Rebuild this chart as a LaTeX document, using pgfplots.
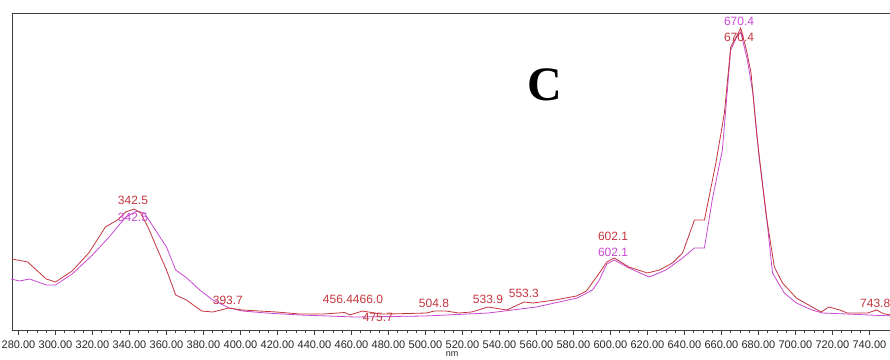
\documentclass[border=0pt]{standalone}
\usepackage{fontspec}
\setmainfont{Liberation Sans}
\newfontfamily\serifbf{Liberation Serif}
\usepackage{pgfplots}
\pgfplotsset{compat=1.18}
\definecolor{cred}{RGB}{196,52,62}
\definecolor{cmag}{RGB}{200,72,210}
\begin{document}
\begin{tikzpicture}
\begin{axis}[
  at={(12pt,29pt)}, anchor=south west,
  scale only axis, width=880pt, height=317pt,
  xmin=276.5, xmax=752.2, ymin=0, ymax=317,
  xtick={280,300,...,740}, minor x tick num=3,
  ytick=\empty,
  xtick pos=left,
  tick align=outside,
  major tick length=5pt, minor tick length=3pt,
  axis line style={black!75, line width=0.8pt},
  tick style={black!75, line width=0.7pt},
  xticklabel style={font=\fontsize{11}{12}\selectfont, text=black!85, yshift=-2pt,
    /pgf/number format/.cd, fixed, fixed zerofill, precision=2, 1000 sep={}, assume math mode=true},
  xlabel={nm}, xlabel style={font=\fontsize{9}{10}\selectfont, text=black!85, yshift=4pt},
  clip=false,
]
\addplot[cmag, line width=0.8pt] coordinates {
(276,51) (280.5,49) (286,51) (295,45) (300,45) (309,56) (320,75) (329,93)
(338,113) (344,119) (348,117) (354,100) (360,83) (365,60) (371,52) (378,40)
(385,30) (394,22) (401,19) (414,17) (432,15) (462,13) (500,14) (534,17)
(560,23) (582,32) (590.3,40) (594,50) (598,66) (602.1,70) (610,62) (621,53)
(630,60) (639,72) (645.4,82) (650.8,82) (655,130) (660.5,180) (665,280)
(668,292) (670.4,298) (674,270) (677,237) (680.5,170) (684,120) (687.6,57)
(694,37) (700.5,27) (709,20) (714.6,17) (727.6,16) (752.2,14)
};
\addplot[cred, line width=0.8pt] coordinates {
(276.5,71) (285,68) (295,51) (300,48) (309,59) (318,77) (327,103) (333.5,110)
(338,118) (342.5,121) (346,117) (350,103) (354.6,83) (360,60) (365,35)
(370.8,30) (379,19) (385,18) (393.7,22) (401,20) (419.5,18) (432,16) (445,16)
(456.4,17.5) (459,15) (466,19) (475.7,16) (480.5,16) (500.5,17) (504.8,19)
(511,19) (518,17) (525,18) (533.9,23) (544,20) (553.3,28) (558,27) (570,30)
(581.6,34) (587,39) (594,57) (598,68) (602.1,72) (610,63) (620,57)
(626.5,60) (633.5,67) (639,77) (645.4,110) (650.8,110) (657,167) (661.6,217)
(665,283) (668,293) (670.4,302) (673.5,280) (676,257) (679,197) (684,117)
(688.6,63) (693,47) (700.5,32) (709,23) (714,18) (718,23) (724,20) (728,17)
(739,17) (743.8,20) (748,16) (752.2,15)
};
\begin{scope}[every node/.style={font=\fontsize{12}{14}\selectfont, inner sep=0pt}]
\node[text=cred] at (axis cs:341.9,130) {342.5};
\node[text=cmag] at (axis cs:341.9,113) {342.5};
\node[text=cred] at (axis cs:393.2,30) {393.7};
\node[text=cred] at (axis cs:460.8,31) {456.4466.0};
\node[text=cred] at (axis cs:474.3,13) {475.7};
\node[text=cred] at (axis cs:504.6,27) {504.8};
\node[text=cred] at (axis cs:533.8,31) {533.9};
\node[text=cred] at (axis cs:553.2,37) {553.3};
\node[text=cred] at (axis cs:601.4,94) {602.1};
\node[text=cmag] at (axis cs:601.4,78) {602.1};
\node[text=cmag] at (axis cs:669.5,309) {670.4};
\node[text=cred] at (axis cs:669.5,293) {670.4};
\node[text=cred, anchor=west] at (axis cs:734.9,27) {743.8};
\end{scope}
\node[font=\serifbf\bfseries\fontsize{48}{50}\selectfont, inner sep=0pt] at (axis cs:564.6,245) {C};
\end{axis}
\pgfresetboundingbox
\path[use as bounding box] (0,0) rectangle (890pt,359pt);
\end{tikzpicture}
\end{document}
